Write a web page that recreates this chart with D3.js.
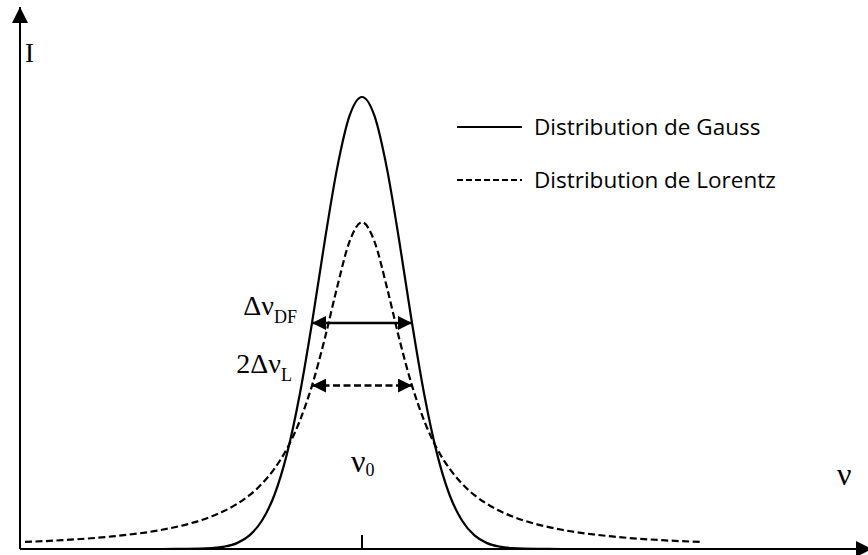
<!DOCTYPE html>
<html>
<head>
<meta charset="utf-8">
<script src="https://cdn.jsdelivr.net/npm/d3@7"></script>
<style>
  html, body { margin: 0; padding: 0; background: #fff; }
  svg { display: block; }
  text { font-variant-ligatures: none; }
</style>
</head>
<body>
<svg id="chart" width="868" height="555"></svg>
<script>
// ---- data (ν in units of the Lorentz half-width, ν0 = 0; I normalised to Gauss peak) ----
const gaussNu = [-6.8, -5, -4, -3.5, -3, -2.75, -2.5, -2.25, -2, -1.75, -1.5, -1.25, -1, -0.75, -0.5, -0.25, 0,
                 0.25, 0.5, 0.75, 1, 1.25, 1.5, 1.75, 2, 2.25, 2.5, 2.75, 3, 3.5, 4, 5, 6.8];
const gaussI  = [0, 0, 0, 0.0002, 0.002, 0.0053, 0.013, 0.030, 0.063, 0.120, 0.211, 0.339, 0.500, 0.678, 0.841, 0.958, 1.0,
                 0.958, 0.841, 0.678, 0.500, 0.339, 0.211, 0.120, 0.063, 0.030, 0.013, 0.0053, 0.002, 0.0002, 0, 0, 0];
const lorentzNu = [-6.74, -6, -5, -4, -3.5, -3, -2.75, -2.5, -2.25, -2, -1.75, -1.5, -1.25, -1, -0.75, -0.5, -0.25, 0,
                   0.25, 0.5, 0.75, 1, 1.25, 1.5, 1.75, 2, 2.25, 2.5, 2.75, 3, 3.5, 4, 5, 6, 6.82];
const lorentzI  = [0.0156, 0.0195, 0.0278, 0.0425, 0.0546, 0.0723, 0.0844, 0.0997, 0.119, 0.1446, 0.178, 0.222, 0.282, 0.3615, 0.463, 0.578, 0.680, 0.723,
                   0.680, 0.578, 0.463, 0.3615, 0.282, 0.222, 0.178, 0.1446, 0.119, 0.0997, 0.0844, 0.0723, 0.0546, 0.0425, 0.0278, 0.0195, 0.0153];
// half-maximum widths (arrows)
const gaussHalf = { from: -1, to: 1, level: 0.5 };
const lorentzHalf = { from: -1, to: 1, level: 0.3615 };
const tickNu = [0];
const legendLabels = ["Distribution de Gauss", "Distribution de Lorentz"];
const axisLabels = { y: "I", x: "ν" };
const centerLabel = { main: "ν", sub: "0" };
const widthLabels = [{ pre: "Δν", sub: "DF" }, { pre: "2Δν", sub: "L" }];

// ---- layout ----
const svg = d3.select("#chart");
const x0 = 20, y0 = 549;
const x = d3.scaleLinear().domain([-6.84, 10.12]).range([x0, 868]);
const y = d3.scaleLinear().domain([0, 1]).range([y0, 97]);

const defs = svg.append("defs");
function marker(id, orient) {
  defs.append("marker").attr("id", id).attr("viewBox", "0 0 10 10")
    .attr("refX", 10).attr("refY", 5).attr("markerWidth", 14).attr("markerHeight", 14)
    .attr("markerUnits", "userSpaceOnUse").attr("orient", orient)
    .append("path").attr("d", "M0,0 L10,5 L0,10 Z").attr("fill", "#000");
}
marker("arrEnd", "auto");
marker("arrStart", "auto-start-reverse");
defs.append("marker").attr("id", "axArrow").attr("viewBox", "0 0 10 10")
  .attr("refX", 10).attr("refY", 5).attr("markerWidth", 16).attr("markerHeight", 16)
  .attr("markerUnits", "userSpaceOnUse").attr("orient", "auto")
  .append("path").attr("d", "M0,0 L10,5 L0,10 Z").attr("fill", "#000");

// axes
svg.append("line").attr("x1", x0).attr("y1", y0).attr("x2", x0).attr("y2", 7)
  .attr("stroke", "#000").attr("stroke-width", 2).attr("marker-end", "url(#axArrow)");
svg.append("line").attr("x1", x0).attr("y1", y0).attr("x2", 872).attr("y2", y0)
  .attr("stroke", "#000").attr("stroke-width", 2).attr("marker-end", "url(#axArrow)");
svg.selectAll(".tick").data(tickNu).enter().append("line")
  .attr("x1", d => x(d)).attr("x2", d => x(d)).attr("y1", y0).attr("y2", y0 - 14)
  .attr("stroke", "#000").attr("stroke-width", 2);

// curves
const line = d3.line().x(d => x(d[0])).y(d => y(d[1])).curve(d3.curveMonotoneX);
svg.append("path").datum(d3.zip(gaussNu, gaussI)).attr("d", line)
  .attr("fill", "none").attr("stroke", "#000").attr("stroke-width", 2.2);
svg.append("path").datum(d3.zip(lorentzNu, lorentzI)).attr("d", line)
  .attr("fill", "none").attr("stroke", "#000").attr("stroke-width", 2.2).attr("stroke-dasharray", "7,3.5");

// width arrows
function dbl(h, dash) {
  svg.append("line").attr("x1", x(h.from)).attr("x2", x(h.to)).attr("y1", y(h.level)).attr("y2", y(h.level))
    .attr("stroke", "#000").attr("stroke-width", 2.5)
    .attr("stroke-dasharray", dash || null)
    .attr("marker-start", "url(#arrStart)").attr("marker-end", "url(#arrEnd)");
}
dbl(gaussHalf);
dbl(lorentzHalf, "7,3.5");

// legend
const lg = svg.append("g");
[0, 1].forEach(i => {
  const ly = [127, 180][i];
  lg.append("line").attr("x1", 457).attr("x2", 522).attr("y1", ly).attr("y2", ly)
    .attr("stroke", "#000").attr("stroke-width", 2).attr("stroke-dasharray", i ? "6,3" : null);
  lg.append("text").attr("x", 534).attr("y", ly + 7.5).text(legendLabels[i])
    .attr("font-family", "'Open Sans', sans-serif").attr("font-size", 22.5).attr("fill", "#000");
});

// labels
const serif = "'Liberation Serif', 'DejaVu Serif', serif";
svg.append("text").attr("x", 25).attr("y", 62).text(axisLabels.y)
  .attr("font-family", serif).attr("font-size", 27);
svg.append("text").attr("x", 837).attr("y", 485).text(axisLabels.x)
  .attr("font-family", serif).attr("font-size", 32);
const c = svg.append("text").attr("x", 351).attr("y", 472).attr("font-family", serif);
c.append("tspan").attr("font-size", 32).text(centerLabel.main);
c.append("tspan").attr("font-size", 18).attr("dy", 4).text(centerLabel.sub);

const wl = [[297, 315], [292, 373]];
widthLabels.forEach((l, i) => {
  const t = svg.append("text").attr("x", wl[i][0]).attr("y", wl[i][1]).attr("text-anchor", "end").attr("font-family", serif);
  t.append("tspan").attr("font-size", 28).text(l.pre);
  t.append("tspan").attr("font-size", 18).attr("dy", 8).text(l.sub);
});
</script>
</body>
</html>
